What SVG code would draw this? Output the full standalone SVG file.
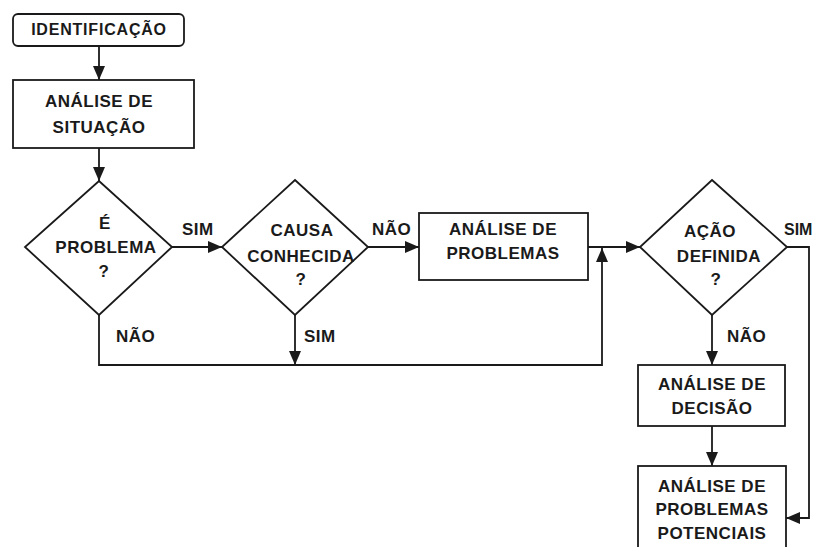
<svg xmlns="http://www.w3.org/2000/svg" width="814" height="547" viewBox="0 0 814 547">
<defs>
<style>
.n{fill:#fff;stroke:#1a1a1a;stroke-width:1.8}
.c{fill:none;stroke:#1a1a1a;stroke-width:1.8}
text{font-family:"Liberation Sans",Arial,sans-serif;font-weight:bold;font-size:17px;fill:#1a1a1a;letter-spacing:0.5px}
.m{text-anchor:middle}
</style>
<marker id="ah" viewBox="0 0 14 12" refX="14" refY="6" markerWidth="14" markerHeight="12" markerUnits="userSpaceOnUse" orient="auto">
<path d="M0,0 L14,6 L0,12 z" fill="#1a1a1a"/>
</marker>
</defs>
<rect width="814" height="547" fill="#fff"/>
<g id="connectors">
<path class="c" d="M99,46 V80" marker-end="url(#ah)"/>
<path class="c" d="M99,148 V181" marker-end="url(#ah)"/>
<path class="c" d="M172,247 H222" marker-end="url(#ah)"/>
<path class="c" d="M368,247 H419" marker-end="url(#ah)"/>
<path class="c" d="M99,315 V365 H602 V248" marker-end="url(#ah)"/>
<path class="c" d="M295,315 V365" marker-end="url(#ah)"/>
<path class="c" d="M588,247 H640" marker-end="url(#ah)"/>
<path class="c" d="M787,247 H809 V518 H786" marker-end="url(#ah)"/>
<path class="c" d="M712,315 V365" marker-end="url(#ah)"/>
<path class="c" d="M712,426 V466" marker-end="url(#ah)"/>
<text x="182" y="235">SIM</text>
<text x="372" y="235">NÃO</text>
<text x="116" y="342">NÃO</text>
<text x="304" y="342">SIM</text>
<text x="784" y="235" style="font-size:16px;letter-spacing:0">SIM</text>
<text x="727" y="342">NÃO</text>
</g>
<g id="identificacao">
<rect class="n" x="13" y="14" width="171" height="32" rx="5"/>
<text class="m" x="99" y="35" style="font-size:16px;letter-spacing:0.8px">IDENTIFICAÇÃO</text>
</g>
<g id="analise-situacao">
<rect class="n" x="13" y="80" width="181" height="68"/>
<text class="m" x="99" y="107">ANÁLISE DE</text>
<text class="m" x="99" y="133">SITUAÇÃO</text>
</g>
<g id="e-problema">
<polygon class="n" points="99,181 172,247 99,315 25,247"/>
<text class="m" x="105" y="229">É</text>
<text class="m" x="106" y="253">PROBLEMA</text>
<text class="m" x="104" y="277">?</text>
</g>
<g id="causa-conhecida">
<polygon class="n" points="295,180 368,247 295,315 222,247"/>
<text class="m" x="302" y="236">CAUSA</text>
<text class="m" x="301" y="262">CONHECIDA</text>
<text class="m" x="301" y="285">?</text>
</g>
<g id="analise-problemas">
<rect class="n" x="419" y="213" width="169" height="67"/>
<text class="m" x="503" y="235">ANÁLISE DE</text>
<text class="m" x="503" y="259">PROBLEMAS</text>
</g>
<g id="acao-definida">
<polygon class="n" points="712,180 787,247 712,315 640,247"/>
<text class="m" x="710" y="237">AÇÃO</text>
<text class="m" x="719" y="262">DEFINIDA</text>
<text class="m" x="716" y="285">?</text>
</g>
<g id="analise-decisao">
<rect class="n" x="638" y="365" width="147" height="61"/>
<text class="m" x="712" y="390">ANÁLISE DE</text>
<text class="m" x="712" y="414">DECISÃO</text>
</g>
<g id="analise-problemas-potenciais">
<rect class="n" x="638" y="466" width="148" height="90"/>
<text class="m" x="712" y="492">ANÁLISE DE</text>
<text class="m" x="712" y="515">PROBLEMAS</text>
<text class="m" x="712" y="539">POTENCIAIS</text>
</g>
</svg>
